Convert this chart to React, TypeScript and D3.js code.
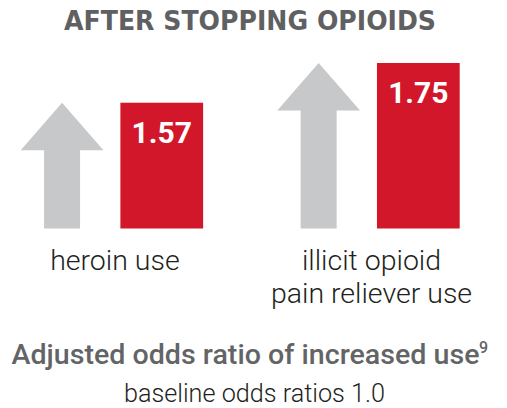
import React from "react";
import * as d3 from "d3";

const categories = ["heroin use", "illicit opioid pain reliever use"];
const categoryLines = [["heroin use"], ["illicit opioid", "pain reliever use"]];
const values = [1.57, 1.75];
const baselineValue = 1.0;
const title = "AFTER STOPPING OPIOIDS";
const footerTitle = "Adjusted odds ratio of increased use";
const footerSup = "9";
const footerSub = "baseline odds ratios 1.0";

const W = 507;
const H = 408;
const RED = "#d3172a";
const GRAY = "#c7c8ca";

export default function App() {
  const x = d3.scaleBand<string>().domain(categories).range([20.7, 459.7]).paddingInner(0.289).paddingOuter(0);
  const inner = d3.scaleBand<string>().domain(["arrow", "bar"]).range([0, x.bandwidth()]).paddingInner(0.17);
  const y = d3.scaleLinear().domain([baselineValue, 1.75]).range([228.5, 63]);

  const headH = 47.5;
  const shaftW = 36;

  return (
    <svg width={W} height={H} style={{ position: "absolute", left: 0, top: 0 }}>
      <rect width={W} height={H} fill="#fff" />
      <text
        x={250}
        y={30}
        textAnchor="middle"
        fontFamily="'DejaVu Sans', sans-serif"
        fontWeight="bold"
        fontSize={26}
        fill="#5f6062"
        textLength={372}
        lengthAdjust="spacingAndGlyphs"
      >
        {title}
      </text>
      {categories.map((c, i) => {
        const gx = x(c)!;
        const ax = gx + inner("arrow")!;
        const aw = inner.bandwidth();
        const acx = ax + aw / 2;
        const bx = gx + inner("bar")!;
        const bw = inner.bandwidth();
        const tip = y(values[i]);
        const base = y(baselineValue);
        const path = d3.path();
        path.moveTo(acx, tip);
        path.lineTo(ax + aw, tip + headH);
        path.lineTo(acx + shaftW / 2, tip + headH);
        path.lineTo(acx + shaftW / 2, base);
        path.lineTo(acx - shaftW / 2, base);
        path.lineTo(acx - shaftW / 2, tip + headH);
        path.lineTo(ax, tip + headH);
        path.closePath();
        const lines = categoryLines[i];
        const cx = gx + x.bandwidth() / 2 + 3;
        return (
          <g key={c}>
            <path d={path.toString()} fill={GRAY} />
            <rect x={bx} y={tip} width={bw} height={base - tip} fill={RED} />
            <text
              x={bx + bw / 2}
              y={tip + 40}
              textAnchor="middle"
              fontFamily="Roboto, sans-serif"
              fontWeight="bold"
              fontSize={30}
              fill="#fff"
            >
              {values[i].toFixed(2)}
            </text>
            {lines.map((ln, j) => (
              <text
                key={j}
                x={cx}
                y={270 + j * 33}
                textAnchor="middle"
                fontFamily="Roboto, sans-serif"
                fontWeight={300}
                fontSize={28.5}
                fill="#231f20"
              >
                {ln}
              </text>
            ))}
          </g>
        );
      })}
      <text
        x={11.5}
        y={363.5}
        fontFamily="Roboto, sans-serif"
        fontWeight={500}
        fontSize={27}
        fill="#636466"
        textLength={468}
        lengthAdjust="spacingAndGlyphs"
      >
        {footerTitle}
      </text>
      <text x={479} y={353} fontFamily="Roboto, sans-serif" fontWeight={500} fontSize={16} fill="#636466">
        {footerSup}
      </text>
      <text
        x={124}
        y={401.5}
        fontFamily="Roboto, sans-serif"
        fontWeight={300}
        fontSize={25}
        fill="#231f20"
        textLength={261}
        lengthAdjust="spacingAndGlyphs"
      >
        {footerSub}
      </text>
    </svg>
  );
}
